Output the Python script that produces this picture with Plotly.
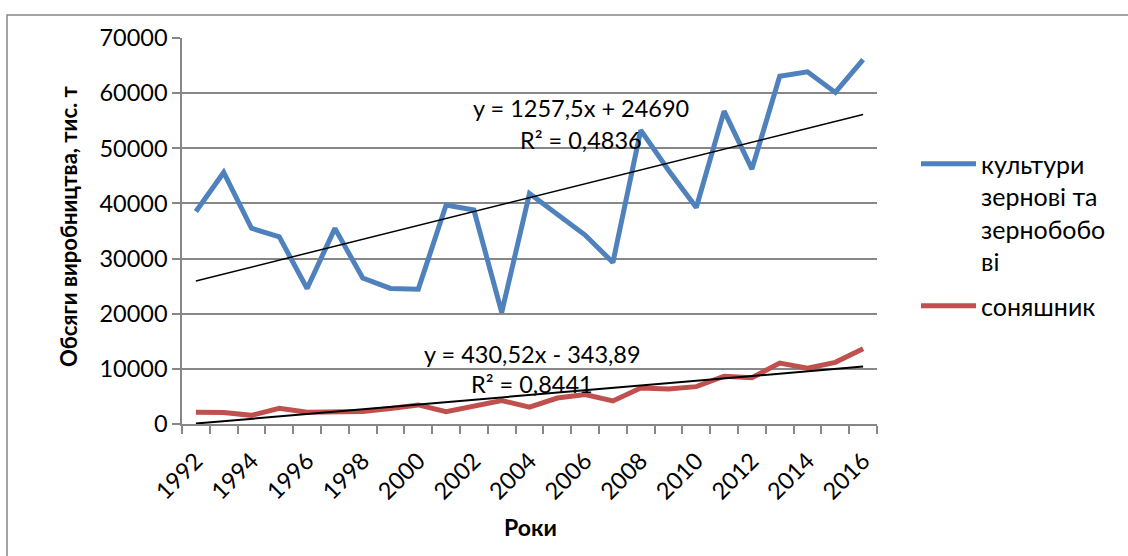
import plotly.graph_objects as go
import numpy as np

years = list(range(1992, 2017))
grain = [38537, 45622, 35497, 33930, 24571, 35472, 26471, 24581, 24459, 39706,
         38804, 20234, 41809, 38016, 34258, 29295, 53290, 46028, 39271, 56747,
         46216, 63051, 63859, 60126, 66088]
sunflower = [2127, 2066, 1569, 2860, 2123, 2308, 2266, 2794, 3457, 2251,
             3271, 4254, 3050, 4706, 5324, 4174, 6526, 6364, 6772, 8671,
             8387, 11051, 10134, 11181, 13627]
grain_name = "культури<br>зернові та<br>зернобобо<br>ві"
sun_name = "соняшник"
grain_trend = (1257.5, 24690)
sun_trend = (430.52, -343.89)
grain_eq = ["y = 1257,5x + 24690", "R² = 0,4836"]
sun_eq = ["y = 430,52x - 343,89", "R² = 0,8441"]
y_ticks = [0, 10000, 20000, 30000, 40000, 50000, 60000, 70000]
x_labels = [str(y) for y in range(1992, 2017, 2)]

FONT = "Lato"
BLUE = "#4F81BD"
RED = "#C0504D"
GRID = "#878787"
FS = 23.5

idx = np.arange(1, len(years) + 1)
g_tr = grain_trend[0] * idx + grain_trend[1]
s_tr = sun_trend[0] * idx + sun_trend[1]

fig = go.Figure()
fig.add_trace(go.Scatter(x=years, y=grain, mode="lines", name=grain_name,
                         legendgroup="g",
                         line=dict(color=BLUE, width=5)))
fig.add_trace(go.Scatter(x=years, y=sunflower, mode="lines", name=sun_name,
                         legendgroup="s",
                         line=dict(color=RED, width=5)))
fig.add_trace(go.Scatter(x=years, y=g_tr, mode="lines", showlegend=False,
                         line=dict(color="black", width=1.5)))
fig.add_trace(go.Scatter(x=years, y=s_tr, mode="lines", showlegend=False,
                         line=dict(color="black", width=2)))

L, R, T, B = 182, 251, 38, 132
W, H = 1128, 556
pw, ph = W - L - R, H - T - B

def px(xp):
    return (xp - L) / pw

def py(yp):
    return (H - B - yp) / ph

fig.update_layout(
    width=W, height=H,
    margin=dict(l=L, r=R, t=T, b=B),
    paper_bgcolor="white", plot_bgcolor="white",
    font=dict(family=FONT, size=FS, color="black"),
    showlegend=True,
    legend=dict(x=px(916), y=py(141), xanchor="left", yanchor="top",
                valign="top", itemwidth=55, tracegroupgap=9,
                font=dict(family=FONT, size=25, color="black"),
                bgcolor="rgba(0,0,0,0)"),
    xaxis=dict(range=[1991.5, 2016.5], tickmode="array",
               tickvals=list(range(1992, 2017, 2)), ticktext=x_labels,
               tickangle=-45, ticks="", showgrid=False, zeroline=False,
               showline=True, linecolor=GRID, linewidth=1.5,
               ticklabelstandoff=12,
               tickfont=dict(family=FONT, size=FS),
               minor=dict(tick0=1991.5, dtick=1, ticks="outside", ticklen=8,
                          tickcolor=GRID, tickwidth=1.5, showgrid=False)),
    yaxis=dict(range=[0, 70000], tickmode="array", tickvals=y_ticks,
               ticks="outside", ticklen=8, tickcolor=GRID, tickwidth=1.5,
               showgrid=True, gridcolor=GRID, gridwidth=1.5, zeroline=False,
               showline=True, linecolor=GRID, linewidth=1.5,
               tickfont=dict(family=FONT, size=FS), tickformat="d"),
)

fig.add_shape(type="rect", xref="paper", yref="paper",
              x0=px(7), x1=px(1140), y0=py(570), y1=py(15),
              line=dict(color=GRID, width=1.5), fillcolor="rgba(0,0,0,0)",
              layer="below")

ann = [
    (581, 108, grain_eq[0]), (581, 140, grain_eq[1]),
    (532, 354, sun_eq[0]), (532, 384, sun_eq[1]),
]
for x, y, t in ann:
    fig.add_annotation(x=px(x), y=py(y), xref="paper", yref="paper", text=t,
                       showarrow=False, xanchor="center", yanchor="middle",
                       font=dict(family=FONT, size=FS, color="black"))

fig.add_annotation(x=px(69), y=py(226), xref="paper", yref="paper",
                   text="<b>Обсяги виробництва, тис. т</b>", textangle=-90,
                   showarrow=False, xanchor="center", yanchor="middle",
                   font=dict(family=FONT, size=22, color="black"))
fig.add_annotation(x=px(530), y=py(527), xref="paper", yref="paper",
                   text="<b>Роки</b>",
                   showarrow=False, xanchor="center", yanchor="middle",
                   font=dict(family=FONT, size=23, color="black"))

fig.write_html("out.html")
